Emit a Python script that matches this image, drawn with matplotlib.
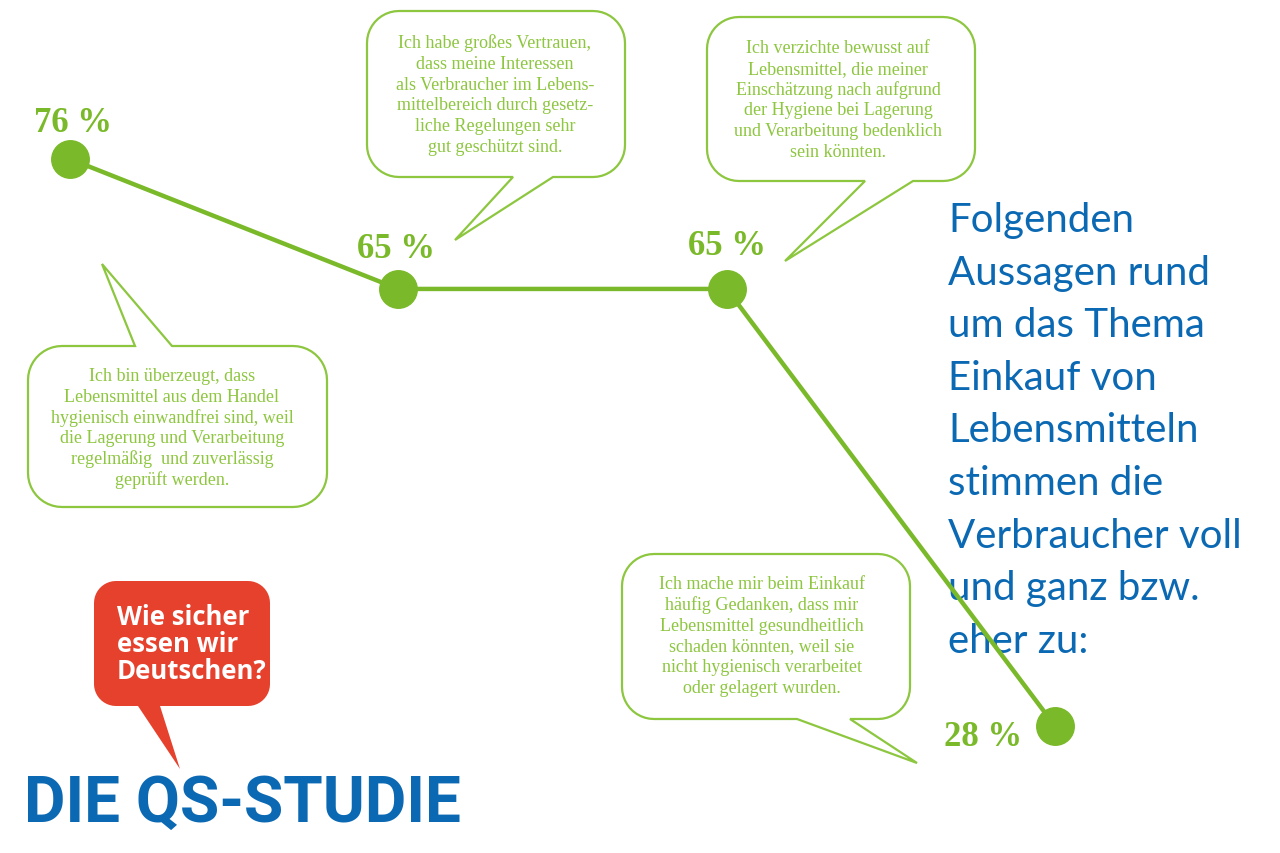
import numpy as np
import matplotlib
matplotlib.use("Agg")
import matplotlib.pyplot as plt
from matplotlib.patches import Polygon
from matplotlib import font_manager


values = [76, 65, 65, 28]
statements = [
    "Ich bin überzeugt, dass\nLebensmittel aus dem Handel\nhygienisch einwandfrei sind, weil\n"
    "die Lagerung und Verarbeitung\nregelmäßig  und zuverlässig\ngeprüft werden.",
    "Ich habe großes Vertrauen,\ndass meine Interessen\nals Verbraucher im Lebens-\n"
    "mittelbereich durch gesetz-\nliche Regelungen sehr\ngut geschützt sind.",
    "Ich verzichte bewusst auf\nLebensmittel, die meiner\nEinschätzung nach aufgrund\n"
    "der Hygiene bei Lagerung\nund Verarbeitung bedenklich\nsein könnten.",
    "Ich mache mir beim Einkauf\nhäufig Gedanken, dass mir\nLebensmittel gesundheitlich\n"
    "schaden könnten, weil sie\nnicht hygienisch verarbeitet\noder gelagert wurden.",
]
headline = ["Folgenden", "Aussagen rund", "um das Thema", "Einkauf von",
            "Lebensmitteln", "stimmen die", "Verbraucher voll",
            "und ganz bzw.", "eher zu:"]
logo_question = ["Wie sicher", "essen wir", "Deutschen?"]
logo_title = "DIE QS-STUDIE"

# label offsets in points (dx, dy) relative to each point
label_offsets = [(2, 20), (-2, 23), (0, 25), (-52, -14)]

green = "#7ab929"
green_light = "#8dc63f"
blue = "#0b69b3"
red = "#e5412d"

installed = {f.name for f in font_manager.fontManager.ttflist}
serif = "Liberation Serif" if "Liberation Serif" in installed else "DejaVu Serif"
narrow = "Liberation Sans Narrow" if "Liberation Sans Narrow" in installed else "Roboto"
sans = "Lato" if "Lato" in installed else "Open Sans"

W, H = 1280, 854
fig = plt.figure(figsize=(12.8, 8.54), dpi=100)

# overlay in pixel coordinates for the decorations
deco = fig.add_axes([0, 0, 1, 1], zorder=1)
deco.set_xlim(0, W)
deco.set_ylim(H, 0)
deco.axis("off")

# data axis: x = statement index, y = percent
ax = fig.add_axes([0, 0, 1, 1], zorder=2)
ax.patch.set_alpha(0)
px_per_pct = (727 - 160) / (76 - 28)
x_step = (1055 - 70) / 3
ax.set_xlim(-70 / x_step, (W - 70) / x_step)
ax.set_ylim(76 - (H - 160) / px_per_pct, 76 + 160 / px_per_pct)
ax.axis("off")

x = np.arange(len(values))
ax.plot(x, values, color=green, lw=3.2, solid_capstyle="round", zorder=3)
ax.plot(x, values, "o", color=green, markersize=27, zorder=4)
for xi, v, off in zip(x, values, label_offsets):
    ax.annotate(f"{v} %", (xi, v), xytext=off, textcoords="offset points",
                ha="center", va="baseline", fontsize=25, fontweight="bold",
                color=green, family=serif)


def bubble_path(x0, y0, x1, y1, r, tail_edge=None, tail=None, n=12):
    pts = []

    def arc(cx, cy, t0, t1):
        for t in np.linspace(t0, t1, n):
            pts.append((cx + r * np.cos(t), cy + r * np.sin(t)))

    arc(x0 + r, y0 + r, np.pi, 1.5 * np.pi)
    if tail_edge == "top":
        a, tip, b = tail
        pts.extend([(a, y0), tip, (b, y0)])
    arc(x1 - r, y0 + r, 1.5 * np.pi, 2 * np.pi)
    arc(x1 - r, y1 - r, 0, 0.5 * np.pi)
    if tail_edge == "bottom":
        a, tip, b = tail
        pts.extend([(b, y1), tip, (a, y1)])
    arc(x0 + r, y1 - r, 0.5 * np.pi, np.pi)
    return pts


bubbles = [
    ((28, 347, 327, 508, 34), "top", (135, (102, 265), 172)),
    ((367, 12, 625, 178, 32), "bottom", (513, (455, 241), 553)),
    ((707, 18, 975, 182, 32), "bottom", (865, (785, 262), 913)),
    ((622, 555, 910, 720, 32), "bottom", (797, (917, 764), 850)),
]
text_pos = [(172, 381), (495, 48), (838, 53), (762, 589)]

for (box, edge, tail), (tx, ty), txt in zip(bubbles, text_pos, statements):
    pts = bubble_path(*box, tail_edge=edge, tail=tail)
    deco.add_patch(Polygon(pts, closed=True, facecolor="white",
                           edgecolor=green_light, lw=1.6))
    for i, line in enumerate(txt.split("\n")):
        deco.text(tx, ty + i * 20.8, line, ha="center", va="baseline",
                  fontsize=13, color=green_light, family=serif)

for i, line in enumerate(headline):
    deco.text(948, 232 + i * 52.6, line, ha="left", va="baseline",
              fontsize=29, color=blue, family=sans)

# logo
pts = bubble_path(94, 582, 270, 707, 22, "bottom", (138, (180, 770), 160))
deco.add_patch(Polygon(pts, closed=True, facecolor=red, edgecolor="none"))
for i, line in enumerate(logo_question):
    deco.text(117, 625 + i * 27, line, ha="left", va="baseline",
              fontsize=18.5, fontweight="bold", color="white", family="Open Sans")
deco.text(24, 822, logo_title, ha="left", va="baseline", fontsize=46,
          fontweight="bold", color=blue, family=narrow)

fig.savefig("out.png", dpi=100, facecolor="white")
